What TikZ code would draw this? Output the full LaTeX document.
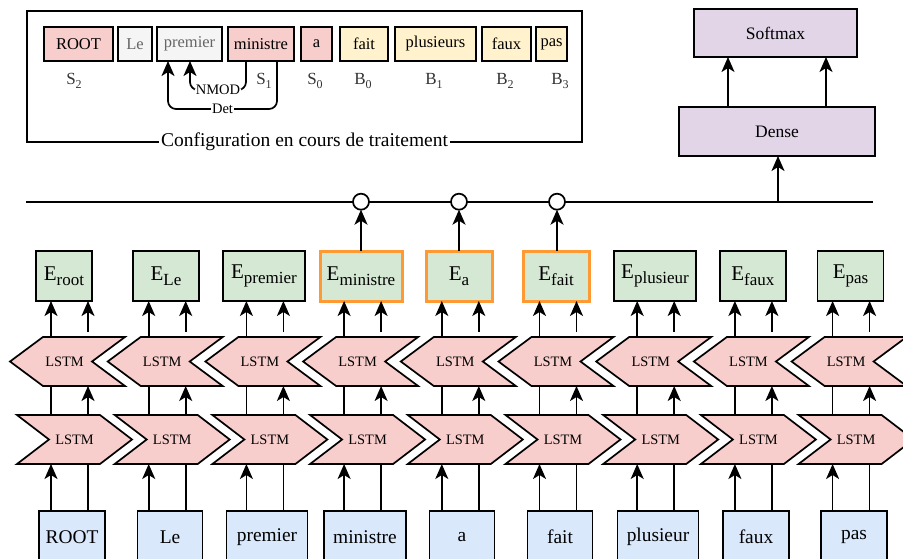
\documentclass[tikz,border=0pt]{standalone}
\usepackage{fontspec}
\setmainfont{Liberation Serif}
\usetikzlibrary{arrows.meta,calc}
\pgfdeclarelayer{bg}
\pgfsetlayers{bg,main}
\definecolor{cred}{HTML}{F8CECC}
\definecolor{cgreen}{HTML}{D5E8D4}
\definecolor{cblue}{HTML}{DAE8FC}
\definecolor{cpurp}{HTML}{E1D5E7}
\definecolor{cyel}{HTML}{FFF2CC}
\definecolor{cgrey}{HTML}{F5F5F5}
\definecolor{corange}{HTML}{FF9933}
\definecolor{tgrey}{HTML}{666666}
\definecolor{tdark}{HTML}{333333}
\newcommand{\Esub}[1]{{\fontsize{21}{24}\selectfont E\raisebox{-5pt}{\fontsize{17}{20}\selectfont #1}}}
\newcommand{\SBsub}[2]{#1\raisebox{-4pt}{\fontsize{12}{14}\selectfont #2}}
\begin{document}
\begin{tikzpicture}[x=1pt,y=-1pt,
  every node/.style={outer sep=0pt},
  ln/.style={line width=1.7pt},
  arr/.style={ln,-{Stealth[length=15pt,width=13pt,inset=4pt]}},
  bx/.style={draw, line width=1.7pt, inner sep=0pt, align=center},
  tok/.style={bx, minimum height=34, font=\fontsize{16.5}{19}\selectfont},
  sblbl/.style={inner sep=0pt, text=tdark, font=\fontsize{17}{20}\selectfont},
  word/.style={bx, fill=cblue, minimum height=52, font=\fontsize{19.4}{22}\selectfont},
  eb0/.style={bx, fill=cgreen, minimum height=50},
  eb1/.style={draw=corange, line width=3pt, fill=cgreen, inner sep=0pt, minimum height=50},
  lstmn/.style={inner sep=0pt, minimum width=115, minimum height=49, font=\fontsize{14.4}{16}\selectfont},
  lstmshape/.style={ln, draw=black, fill=cred, line join=miter},
  purp/.style={bx, fill=cpurp, font=\fontsize{17.5}{20}\selectfont},
  circ/.style={draw, ln, circle, fill=white, minimum size=16, inner sep=0pt},
  arclbl/.style={fill=white, inner sep=1pt, font=\fontsize{14.5}{16}\selectfont}]
\useasboundingbox (0,0) rectangle (903,559);
\clip (0,0) rectangle (903,559);

% ---------- configuration box ----------
\node[draw, ln, minimum width=555, minimum height=130.7, anchor=north west, inner sep=0pt] (cfg) at (27,11) {};
\node[fill=white, inner sep=2pt, font=\fontsize{19.5}{22}\selectfont] (cfglbl) at (cfg.south) {Configuration en cours de traitement};

\foreach \n/\t/\c/\w/\f/\tc in {0/ROOT/78.5/69/cred/black, 1/Le/135/34/cgrey/tgrey, 2/premier/189.5/65/cgrey/tgrey, 3/ministre/261/66/cred/black, 4/a/316.5/31/cred/black, 5/fait/364/48/cyel/black, 6/plusieurs/435.5/81/cyel/black, 7/faux/506.5/49/cyel/black, 8/pas/551.5/31/cyel/black}
  \node[tok, fill=\f, text=\tc, minimum width=\w] (t\n) at (\c,44) {\t};

\foreach \n/\l/\s/\c in {s2/S/2/74, s1/S/1/264, s0/S/0/315, b0/B/0/363, b1/B/1/434, b2/B/2/505, b3/B/3/560}
  \node[sblbl] (\n) at (\c,81) {\SBsub{\l}{\s}};

\coordinate (nmA) at (246,90);
\coordinate (nmB) at (190,90);
\coordinate (dtA) at (277,109);
\coordinate (dtB) at (168,109);
\draw[arr, rounded corners=8pt] (t3.south -| nmA) -- (nmA) -- node[arclbl] (nmod) {NMOD} (nmB) -- (t2.south -| nmB);
\draw[arr, rounded corners=8pt] (t3.south -| dtA) -- (dtA) -- node[arclbl] (det) {Det} (dtB) -- (t2.south -| dtB);

% ---------- dense / softmax ----------
\node[purp, minimum width=163, minimum height=48] (soft) at (775.5,33) {Softmax};
\node[purp, minimum width=196, minimum height=49] (dense) at (777,131.5) {Dense};
\coordinate (sx1) at (728,0);
\coordinate (sx2) at (826,0);
\draw[arr] (dense.north -| sx1) -- (soft.south -| sx1);
\draw[arr] (dense.north -| sx2) -- (soft.south -| sx2);

% ---------- concatenation line ----------
\coordinate (hl) at (26,201.7);
\coordinate (hr) at (873,201.7);
\coordinate (dj) at (778,201.7);
\draw[ln] (hl) -- (hr);
\draw[arr] (dj) -- (dense.south -| dj);
\node[circ] (c3) at (361,201.7) {};
\node[circ] (c4) at (459,201.7) {};
\node[circ] (c5) at (557,201.7) {};

% ---------- word boxes ----------
\foreach \n/\t/\c/\w in {0/ROOT/72/66, 1/Le/170/65, 2/premier/267/81, 3/ministre/365/82, 4/a/462/65, 5/fait/560/65, 6/plusieur/658/81, 7/faux/756/66, 8/pas/854/66}
  \node[word, minimum width=\w] (w\n) at (\c,537) {\t};

% ---------- embeddings ----------
\foreach \n/\s/\c/\w/\h in {0/root/64/56/0, 1/Le/166/66/0, 2/premier/264/82/0, 3/ministre/361/82/1, 4/a/459/66/1, 5/fait/556/66/1, 6/plusieur/655/82/0, 7/faux/752.8/66/0, 8/pas/850.5/66/0}
  \node[eb\h, minimum width=\w] (e\n) at (\c,276) {\Esub{\s}};

\draw[arr] (e3.north) -- (c3.south);
\draw[arr] (e4.north -| c4) -- (c4.south);
\draw[arr] (e5.north -| c5) -- (c5.south);

% ---------- LSTM layers ----------
\foreach \i in {0,...,8} {
  \pgfmathsetmacro\fc{74.5+97.7*\i}
  \pgfmathsetmacro\bc{67.5+97.7*\i}
  \node[lstmn] (fw\i) at (\fc,439.5) {LSTM};
  \node[lstmn] (bw\i) at (\bc,361.5) {\hspace*{-6pt}LSTM};
  \begin{pgfonlayer}{bg}
    \filldraw[lstmshape] (fw\i.north west) -- ([xshift=-32pt]fw\i.north east) -- (fw\i.east)
      -- ([xshift=-32pt]fw\i.south east) -- (fw\i.south west) -- ([xshift=32pt]fw\i.west) -- cycle;
    \filldraw[lstmshape] ([xshift=33pt]bw\i.north west) -- (bw\i.north east) -- ([xshift=-33pt]bw\i.east)
      -- (bw\i.south east) -- ([xshift=33pt]bw\i.south west) -- (bw\i.west) -- cycle;
  \end{pgfonlayer}
  \coordinate (lx\i) at (51+97.7*\i,0);
  \coordinate (rx\i) at (88+97.7*\i,0);
}

\foreach \i in {0,...,8} {
  \draw[arr] (w\i.north -| lx\i) -- (fw\i.south -| lx\i);
  \draw[ln] (w\i.north -| rx\i) -- (fw\i.south -| rx\i);
  \draw[ln] (fw\i.north -| lx\i) -- (bw\i.south -| lx\i);
  \draw[arr] (fw\i.north -| rx\i) -- (bw\i.south -| rx\i);
  \draw[arr] (bw\i.north -| lx\i) -- (e\i.south -| lx\i);
  \draw[arr] ([yshift=5pt]bw\i.north -| rx\i) -- (e\i.south -| rx\i);
}
\end{tikzpicture}
\end{document}
